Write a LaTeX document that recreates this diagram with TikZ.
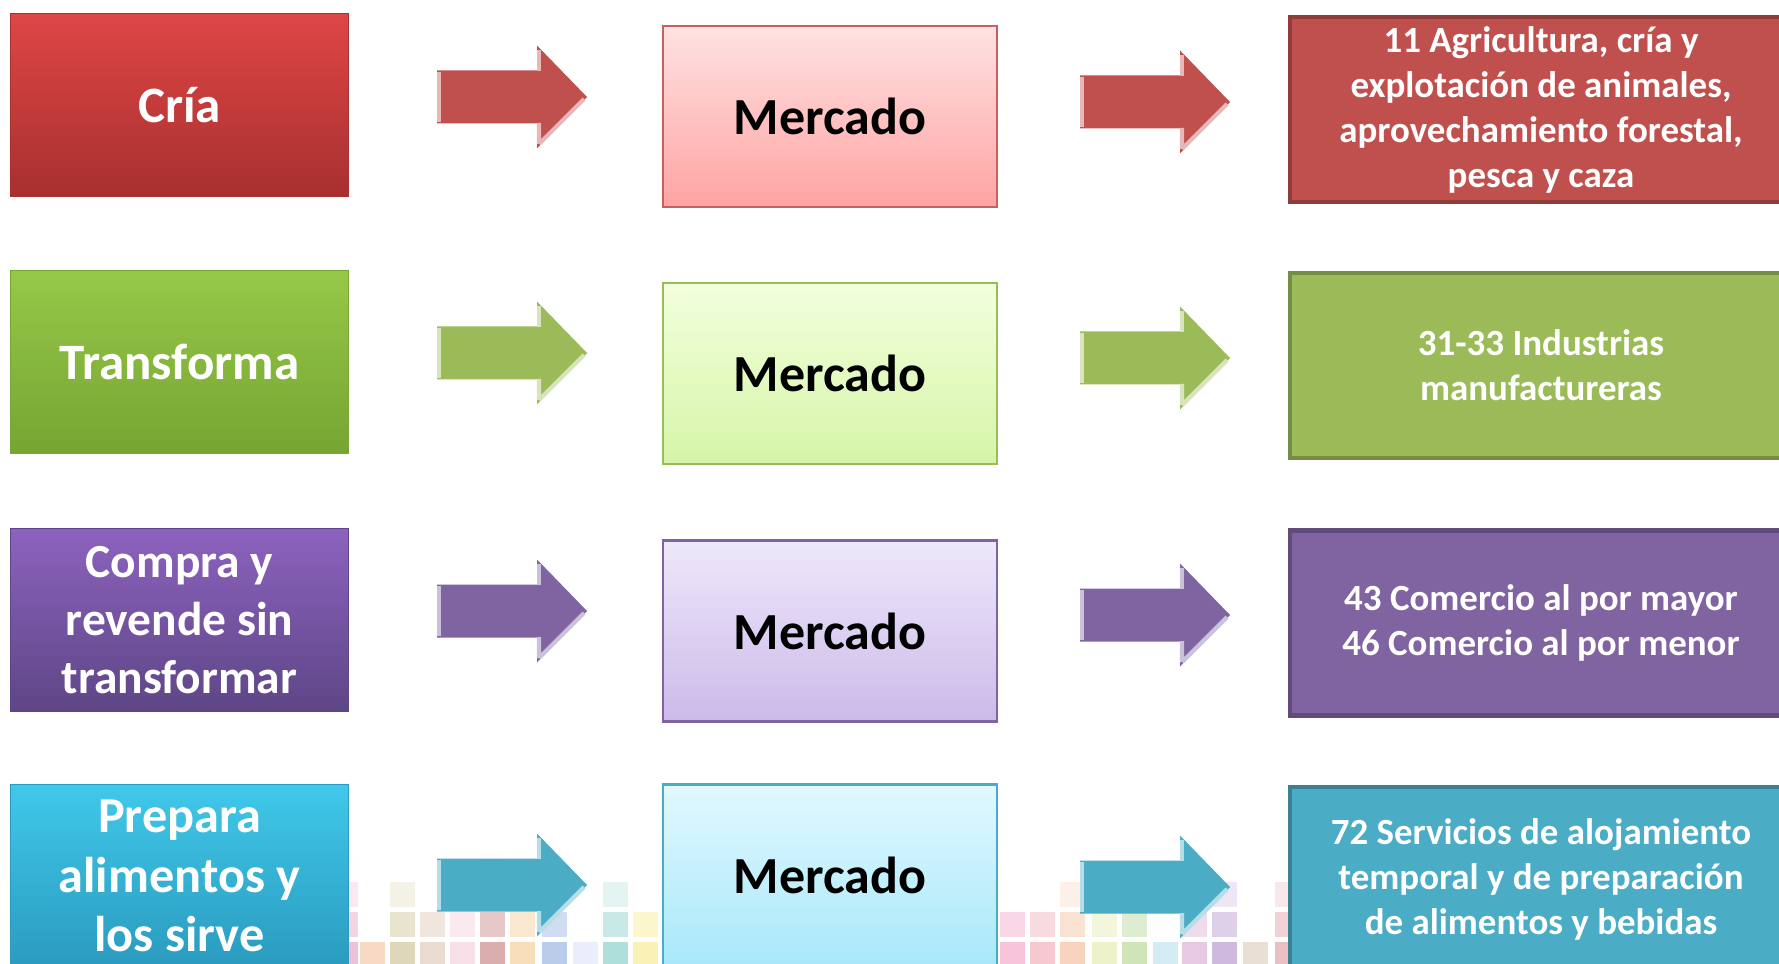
\documentclass[tikz,border=0pt]{standalone}
\usepackage{fontspec}
\setmainfont{Carlito}
\usepackage{tikz}
\usetikzlibrary{positioning}
\definecolor{rojo}{RGB}{192,80,77}
\definecolor{rojoA}{RGB}{222,70,70}
\definecolor{rojoB}{RGB}{168,48,47}
\definecolor{rojoM1}{RGB}{255,226,226}
\definecolor{rojoM2}{RGB}{255,163,163}
\definecolor{verde}{RGB}{155,187,89}
\definecolor{verdeA}{RGB}{150,200,72}
\definecolor{verdeB}{RGB}{118,165,50}
\definecolor{verdeM1}{RGB}{242,255,220}
\definecolor{verdeM2}{RGB}{214,245,168}
\definecolor{morado}{RGB}{128,100,162}
\definecolor{moradoA}{RGB}{140,98,190}
\definecolor{moradoB}{RGB}{94,70,134}
\definecolor{moradoM1}{RGB}{238,232,250}
\definecolor{moradoM2}{RGB}{204,186,234}
\definecolor{aqua}{RGB}{75,172,198}
\definecolor{aquaA}{RGB}{64,200,234}
\definecolor{aquaB}{RGB}{42,155,190}
\definecolor{aquaM1}{RGB}{226,248,255}
\definecolor{aquaM2}{RGB}{168,232,250}

% block arrow: centre x, centre y, colour
\newcommand{\flecha}[3]{%
  \fill[#3] (#1-75,#2-26.5) -- (#1+25,#2-26.5) -- (#1+25,#2-51.5)
     -- (#1+75,#2) -- (#1+25,#2+51.5) -- (#1+25,#2+26.5)
     -- (#1-75,#2+26.5) -- cycle;
  \draw[#3!40!white, line width=1.2pt] (#1-73,#2-25) -- (#1-73,#2+25);
  \draw[#3!40!white, line width=1.2pt] (#1+27,#2-47) -- (#1+27,#2-26);
  \draw[#3!40!white, line width=1.2pt] (#1+27,#2+47) -- (#1+27,#2+26)
     (#1+27,#2+47) -- (#1+72,#2+2);
}

\begin{document}
\begin{tikzpicture}[x=0.01cm, y=-0.01cm]
    \useasboundingbox (0,0) rectangle (1779,964);
    % Define styles
    \tikzstyle{giro} = [rectangle, draw, line width=0.3pt, text=white,
                        align=center, inner sep=0pt,
                        minimum width=3.37cm, minimum height=1.83cm]
    \tikzstyle{mercado} = [rectangle, draw, line width=0.7pt,
                           font=\bfseries\fontsize{14.8}{17}\selectfont,
                           minimum width=3.34cm, minimum height=1.81cm]
    \tikzstyle{sector} = [rectangle, draw, line width=1.2pt, text=white,
                          align=center, inner sep=0pt,
                          font=\bfseries\fontsize{10.5}{12.8}\selectfont,
                          minimum width=5.02cm, minimum height=1.85cm]

    % Background tiles
    \foreach \tx/\tc/\tn in {333/{rgb,255:red,232;green,160;blue,200}/4,
        360/{rgb,255:red,244;green,200;blue,168}/1,
        390/{rgb,255:red,208;green,196;blue,152}/3,
        420/{rgb,255:red,224;green,200;blue,184}/2,
        450/{rgb,255:red,244;green,208;blue,220}/2,
        480/{rgb,255:red,200;green,136;blue,136}/4,
        510/{rgb,255:red,244;green,208;blue,152}/2,
        542/{rgb,255:red,152;green,180;blue,224}/2,
        573/{rgb,255:red,224;green,228;blue,248}/1,
        603/{rgb,255:red,136;green,208;blue,200}/3,
        633/{rgb,255:red,248;green,236;blue,144}/2,
        1000/{rgb,255:red,244;green,168;blue,200}/2,
        1030/{rgb,255:red,240;green,176;blue,184}/2,
        1060/{rgb,255:red,244;green,192;blue,160}/3,
        1092/{rgb,255:red,228;green,236;blue,176}/2,
        1122/{rgb,255:red,184;green,216;blue,152}/2,
        1153/{rgb,255:red,192;green,228;blue,240}/1,
        1182/{rgb,255:red,220;green,176;blue,212}/2,
        1212/{rgb,255:red,184;green,152;blue,208}/3,
        1243/{rgb,255:red,224;green,208;blue,192}/1,
        1275/{rgb,255:red,224;green,160;blue,168}/3}
      \foreach \r in {1,...,\tn}
        \fill[color=\tc, opacity={0.9-0.22*\r}]
          (\tx,{972-30*\r}) rectangle ++(25,25);

    % Row 1
    \node[giro, top color=rojoA, bottom color=rojoB, draw=rojoB,
          font=\bfseries\fontsize{14.5}{17}\selectfont] (cria) at (179.5,105) {Cría};
    \node[mercado, top color=rojoM1, bottom color=rojoM2, draw=rojo!90] (mcria) at (830,116.5) {Mercado};
    \node[sector, fill=rojo, draw=rojo!75!black] (scria) at (1541,109.5)
         {11 Agricultura, cría y\\explotación de animales,\\aprovechamiento forestal,\\pesca y caza};

    % Row 2
    \node[giro, top color=verdeA, bottom color=verdeB, draw=verdeB,
          font=\bfseries\fontsize{14.5}{17}\selectfont] (transforma) at (179.5,362) {Transforma};
    \node[mercado, top color=verdeM1, bottom color=verdeM2, draw=verde] (mtrans) at (830,373.5) {Mercado};
    \node[sector, fill=verde, draw=verde!75!black] (strans) at (1541,365.5)
         {31-33 Industrias\\manufactureras};

    % Row 3
    \node[giro, top color=moradoA, bottom color=moradoB, draw=moradoB,
          font=\bfseries\fontsize{13.5}{16.5}\selectfont] (compra) at (179.5,620)
         {Compra y\\revende sin\\transformar};
    \node[mercado, top color=moradoM1, bottom color=moradoM2, draw=morado] (mcompra) at (830,631) {Mercado};
    \node[sector, fill=morado, draw=morado!75!black] (scompra) at (1541,623)
         {43 Comercio al por mayor\\46 Comercio al por menor};

    % Row 4
    \node[giro, top color=aquaA, bottom color=aquaB, draw=aquaB,
          font=\bfseries\fontsize{14.3}{17}\selectfont] (prepara) at (179.5,876)
         {Prepara\\alimentos y\\los sirve};
    \node[mercado, top color=aquaM1, bottom color=aquaM2, draw=aqua] (mprepara) at (830,875) {Mercado};
    \node[sector, fill=aqua, draw=aqua!75!black] (sprepara) at (1541,879.5)
         {72 Servicios de alojamiento\\temporal y de preparación\\de alimentos y bebidas};

    % Draw arrows
    \flecha{512}{97}{rojo}
    \flecha{1155}{102}{rojo}
    \flecha{512}{353}{verde}
    \flecha{1155}{358}{verde}
    \flecha{512}{611}{morado}
    \flecha{1155}{615}{morado}
    \flecha{512}{885}{aqua}
    \flecha{1155}{887}{aqua}
\end{tikzpicture}
\end{document}
